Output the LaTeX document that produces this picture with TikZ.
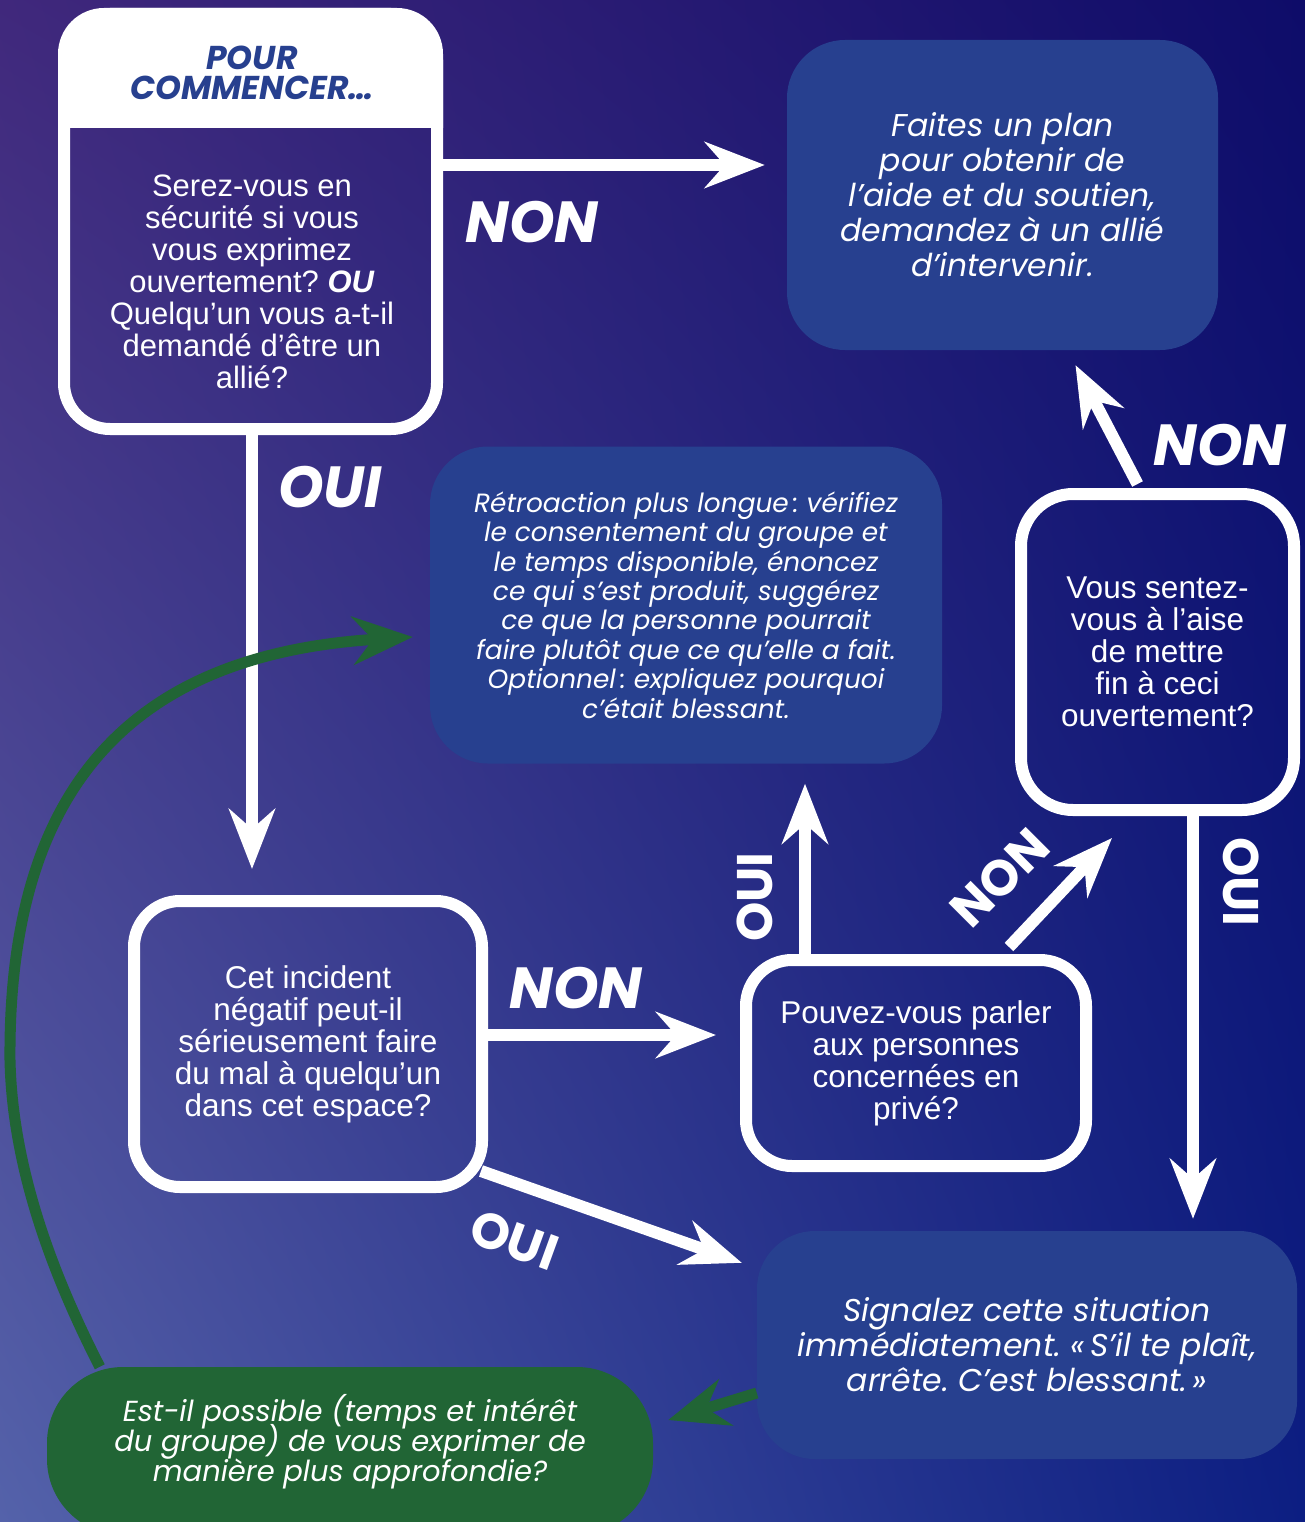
\documentclass[tikz,border=0pt]{standalone}
\usepackage{fontspec}
\usetikzlibrary{positioning,arrows.meta,calc,shadings}
\newfontfamily\bodyfont{Liberation Sans}
\newfontfamily\popfont{Poppins}
\frenchspacing
\lineskiplimit=-\maxdimen
\definecolor{boxblue}{RGB}{39,64,143}
\definecolor{leafgreen}{RGB}{33,101,53}
\definecolor{bgtl}{RGB}{64,40,124}
\definecolor{bgtr}{RGB}{14,12,105}
\definecolor{bgbl}{RGB}{84,98,170}
\definecolor{bgbr}{RGB}{12,30,130}
\tikzset{
  question/.style={
    draw=white, line width=12pt, rounded corners=46pt, inner sep=0pt,
    text=white, align=center, font=\bodyfont\fontsize{31.5}{32}\selectfont
  },
  answer/.style={
    fill=boxblue, rounded corners=58pt, inner sep=0pt,
    text=white, align=center, font=\popfont\itshape\fontsize{31.5}{35}\selectfont
  },
  flow/.style={draw=white, line width=12pt, -{Stealth[length=60pt,width=46pt,inset=20pt]}},
  backflow/.style={draw=leafgreen, line width=11pt, -{Stealth[length=60pt,width=48pt,inset=20pt]}},
  tag/.style={text=white, inner sep=0pt, font=\popfont\bfseries\itshape\fontsize{58}{58}\selectfont},
  turntag/.style={text=white, inner sep=0pt, font=\popfont\bfseries\fontsize{50}{50}\selectfont}
}

\begin{document}
\begin{tikzpicture}[x=1pt, y=-1pt]
  \clip (0,0) rectangle (1305,1522);
  \shade[upper left=bgtl, upper right=bgtr, lower left=bgbl, lower right=bgbr]
    (0,0) rectangle (1305,1522);

  \node[question, minimum width=373pt, minimum height=415pt] (start) at (250.5,221.5) {};
  \fill[white] (start.west |- 0,128) [rounded corners=46pt] -- (start.north west)
    -- (start.north east) [sharp corners] -- (start.east |- 0,128) -- cycle;
  \node[text=boxblue, align=center, inner sep=0pt,
    font=\popfont\bfseries\itshape\fontsize{33}{30}\selectfont] (title) at (252,73) {POUR\\COMMENCER…};
  \node[on grid, below=209pt of title, text=white, align=center, inner sep=0pt,
    font=\bodyfont\fontsize{31}{32}\selectfont] (safe)
    {Serez-vous en\\sécurité si vous\\vous exprimez\\ouvertement? \textbf{\textit{OU}}\\Quelqu’un vous a-t-il\\demandé d’être un\\allié?};

  \node[answer, minimum width=431pt, minimum height=310pt] (plan) at (1002.5,195)
    {Faites un plan\\pour obtenir de\\l’aide et du soutien,\\demandez à un allié\\d’intervenir.};
  \node[answer, minimum width=512pt, minimum height=317pt,
    font=\popfont\itshape\fontsize{26.4}{29.4}\selectfont] (retro) at (686,605)
    {Rétroaction plus longue\,: vérifiez\\le consentement du groupe et\\le temps disponible, énoncez\\ce qui s’est produit, suggérez\\ce que la personne pourrait\\faire plutôt que ce qu’elle a fait.\\Optionnel\,: expliquez pourquoi\\c’était blessant.};
  \node[question, minimum width=348pt, minimum height=286pt] (harm) at (308,1044)
    {Cet incident\\négatif peut-il\\sérieusement faire\\du mal à quelqu’un\\dans cet espace?};
  \node[question, minimum width=340pt, minimum height=206pt] (talk) at (916,1063)
    {Pouvez-vous parler\\aux personnes\\concernées en\\privé?};
  \node[question, minimum width=273pt, minimum height=316pt, rounded corners=52pt] (stop) at (1157.5,652)
    {Vous sentez-\\vous à l’aise\\de mettre\\fin à ceci\\ouvertement?};
  \node[answer, minimum width=540pt, minimum height=228pt] (report) at (1027,1345)
    {Signalez cette situation\\immédiatement. «\,S’il te plaît,\\arrête. C’est blessant.\,»};
  \node[answer, fill=leafgreen, minimum width=606pt, minimum height=168pt, rounded corners=76pt] (deeper) at (350,1451) {};
  \node[text=white, align=center, inner sep=0pt,
    font=\popfont\itshape\fontsize{29}{30}\selectfont] (deepertext) at (350,1442)
    {Est-il possible (temps et intérêt\\du groupe) de vous exprimer de\\manière plus approfondie?};

  \draw[flow, shorten >=22pt] (start.east |- 0,165) -- (plan.west |- 0,165);
  \draw[flow, shorten >=26pt] (start.south -| 252,0) -- (harm.north -| 252,0);
  \draw[flow, shorten >=24pt] (harm.east |- 0,1035) -- (talk.west |- 0,1035);
  \draw[flow] ($(harm.south east)+(-7,-22)$) -- ($(report.north west)+(-15,32)$);
  \draw[flow, shorten >=20pt] ([xshift=-111pt]talk.north) -- ([xshift=-111pt]talk.north |- retro.south);
  \draw[flow] ($(talk.north east)+(-83,-7)$) -- ($(stop.south west)+(97,22)$);
  \draw[flow] ($(stop.north)+(-20,-4)$) -- ($(plan.south)+(73,15)$);
  \draw[flow, shorten >=12pt] ([xshift=35.5pt]stop.south) -- ([xshift=35.5pt]stop.south |- report.north);

  \draw[backflow] ($(deeper.north west)+(53,0)$) .. controls (40,1250) and (12,1150) .. (10,1060)
    .. controls (8,800) and (120,655) .. ($(retro.west)+(-17,32)$);
  \draw[backflow] ($(report.west)+(0,48)$) -- ($(deeper.east)+(15,-31)$);

  \node[tag] (nonA) at (532,222) {NON};
  \node[tag] (ouiA) at (330,487) {OUI};
  \node[tag] (nonB) at (576,988) {NON};
  \node[turntag, rotate=-20] (ouiB) at (514,1240) {OUI};
  \node[turntag, rotate=90] (ouiC) at (755,897) {OUI};
  \node[turntag, rotate=45] (nonC) at (1000,878) {NON};
  \node[tag] (nonD) at (1220,445) {NON};
  \node[turntag, rotate=-90] (ouiD) at (1241,882) {OUI};
\end{tikzpicture}
\end{document}
